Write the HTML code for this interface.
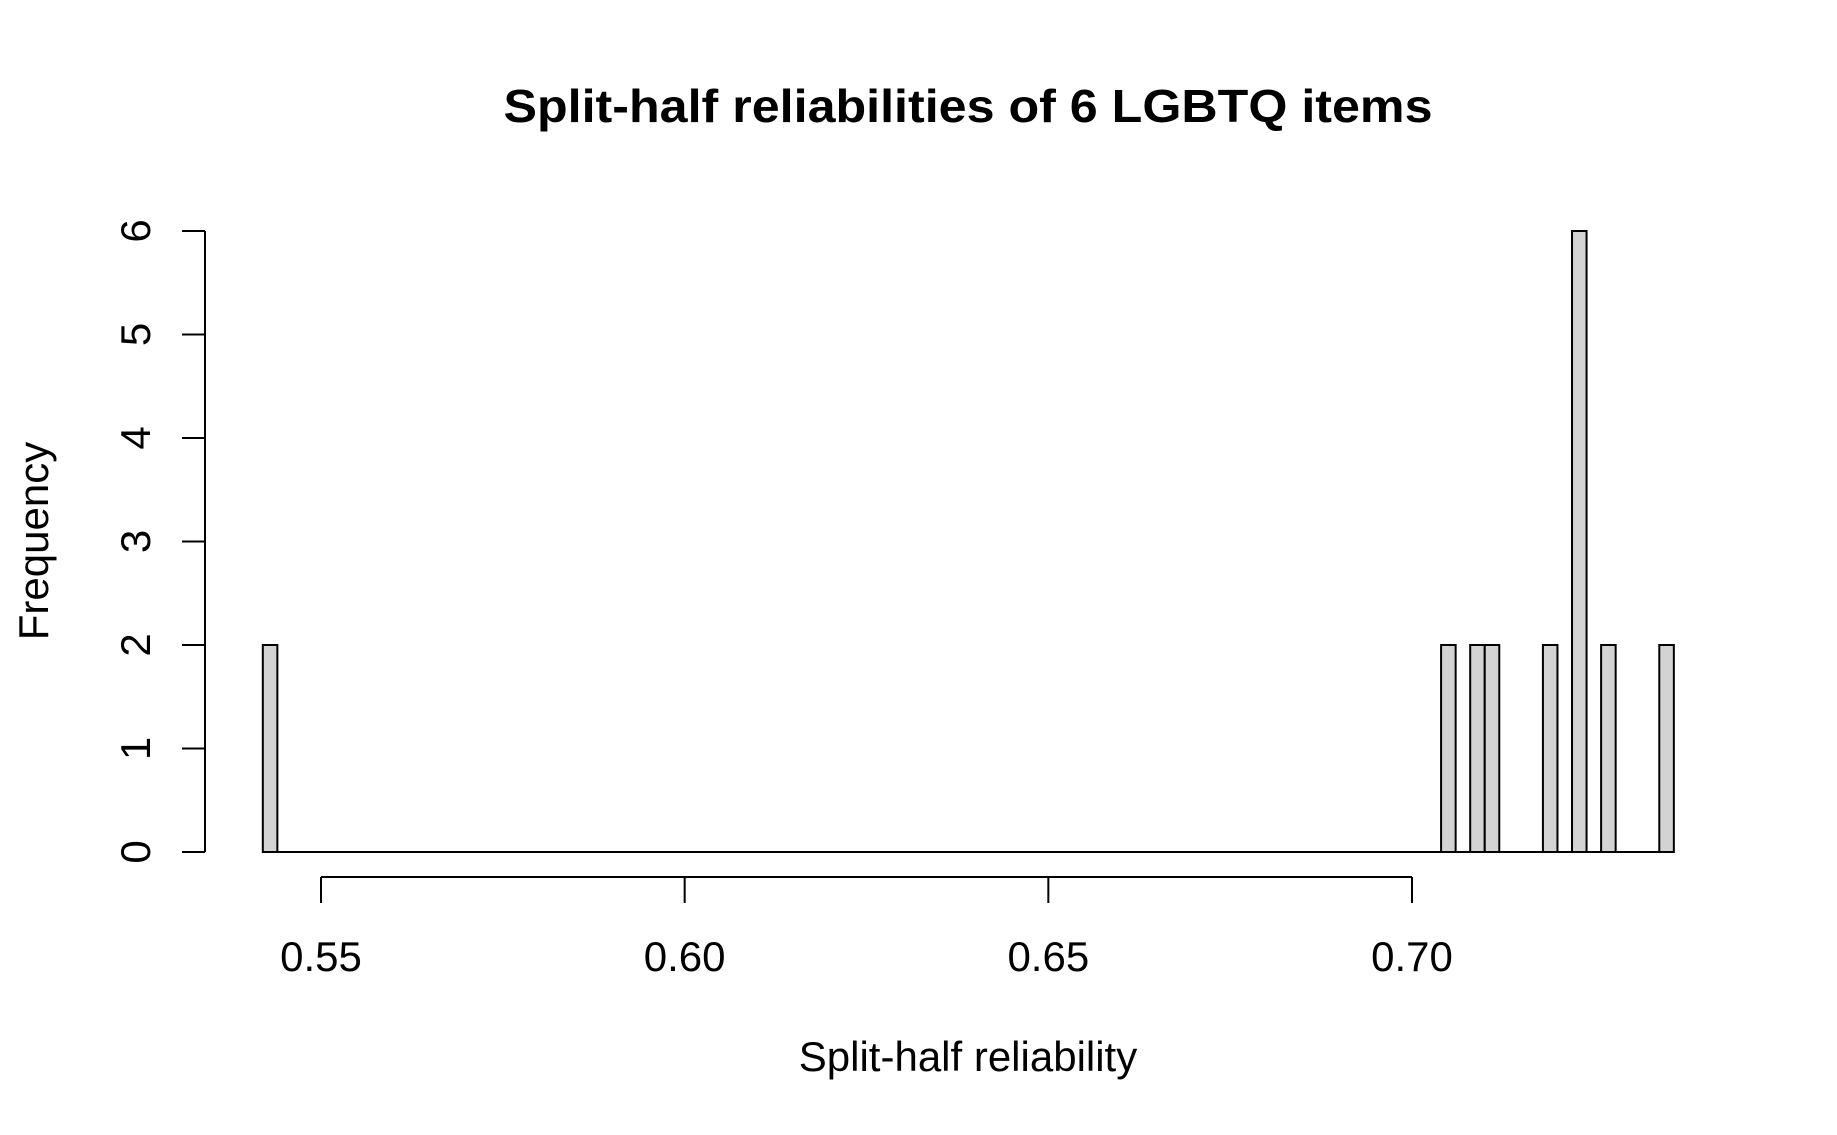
<!DOCTYPE html>
<html><head><meta charset="utf-8"><style>
html,body{margin:0;padding:0;background:#fff;}
svg{display:block;font-family:"Liberation Sans",Arial,sans-serif;}
</style></head><body>
<svg id="chart" width="1837" height="1135" viewBox="0 0 1837 1135" xmlns="http://www.w3.org/2000/svg">
<rect width="1837" height="1135" fill="#fff"/>
<text x="968" y="122" font-size="46" font-weight="bold" text-anchor="middle" textLength="929" lengthAdjust="spacingAndGlyphs">Split-half reliabilities of 6 LGBTQ items</text>
<text x="968" y="1071" font-size="42" text-anchor="middle">Split-half reliability</text>
<text x="0" y="0" font-size="42" text-anchor="middle" transform="translate(48,541) rotate(-90)">Frequency</text>
<g id="bars"></g>
<g id="axes"></g>
</svg>
<script>
const binStarts = [0.542, 0.704, 0.708, 0.710, 0.718, 0.722, 0.726, 0.734];
const counts = [2, 2, 2, 2, 2, 6, 2, 2];
const binWidth = 0.002;
const xTicks = [0.55, 0.60, 0.65, 0.70];
const xTickLabels = ["0.55", "0.60", "0.65", "0.70"];
const yTicks = [0, 1, 2, 3, 4, 5, 6];

const NS = "http://www.w3.org/2000/svg";
function xs(v){ return 321 + (v - 0.55) * (1412 - 321) / 0.15; }
function ys(v){ return 852 - v * (852 - 231) / 6; }
function mk(tag, attrs, parent){ const e = document.createElementNS(NS, tag); for (const k in attrs) e.setAttribute(k, attrs[k]); parent.appendChild(e); return e; }

const bars = document.getElementById('bars');
const axes = document.getElementById('axes');

const base = mk('line', {x1: xs(binStarts[0]), x2: xs(binStarts[binStarts.length-1] + binWidth), y1: ys(0), y2: ys(0), stroke: '#000', 'stroke-width': 2}, bars);



binStarts.forEach((b, i) => {
  const x0 = xs(b), x1 = xs(b + binWidth);
  const r = mk('rect', {x: x0, y: ys(counts[i]), width: x1 - x0, height: ys(0) - ys(counts[i]), fill: '#d3d3d3', stroke: '#000', 'stroke-width': 2}, bars);
  
  
});

const yAxisX = 205;
const yl = mk('line', {x1: yAxisX, x2: yAxisX, y1: ys(yTicks[0]), y2: ys(yTicks[yTicks.length-1]), stroke: '#000', 'stroke-width': 2}, axes);


yTicks.forEach(t => {
  const tk = mk('line', {x1: yAxisX - 23, x2: yAxisX, y1: ys(t), y2: ys(t), stroke: '#000', 'stroke-width': 2}, axes);
  
  
  const tx = mk('text', {x: 0, y: 0, 'font-size': 42, 'text-anchor': 'middle', transform: 'translate(150,' + ys(t) + ') rotate(-90)'}, axes);
  tx.textContent = String(t);
  
  
});

const xAxisY = 877;
const xl = mk('line', {x1: xs(xTicks[0]), x2: xs(xTicks[xTicks.length-1]), y1: xAxisY, y2: xAxisY, stroke: '#000', 'stroke-width': 2}, axes);


xTicks.forEach((t, i) => {
  const tk = mk('line', {x1: xs(t), x2: xs(t), y1: xAxisY, y2: xAxisY + 26, stroke: '#000', 'stroke-width': 2}, axes);
  
  
  const tx = mk('text', {x: xs(t), y: 971, 'font-size': 42, 'text-anchor': 'middle'}, axes);
  tx.textContent = xTickLabels[i];
  
  
});
</script>
</body></html>
